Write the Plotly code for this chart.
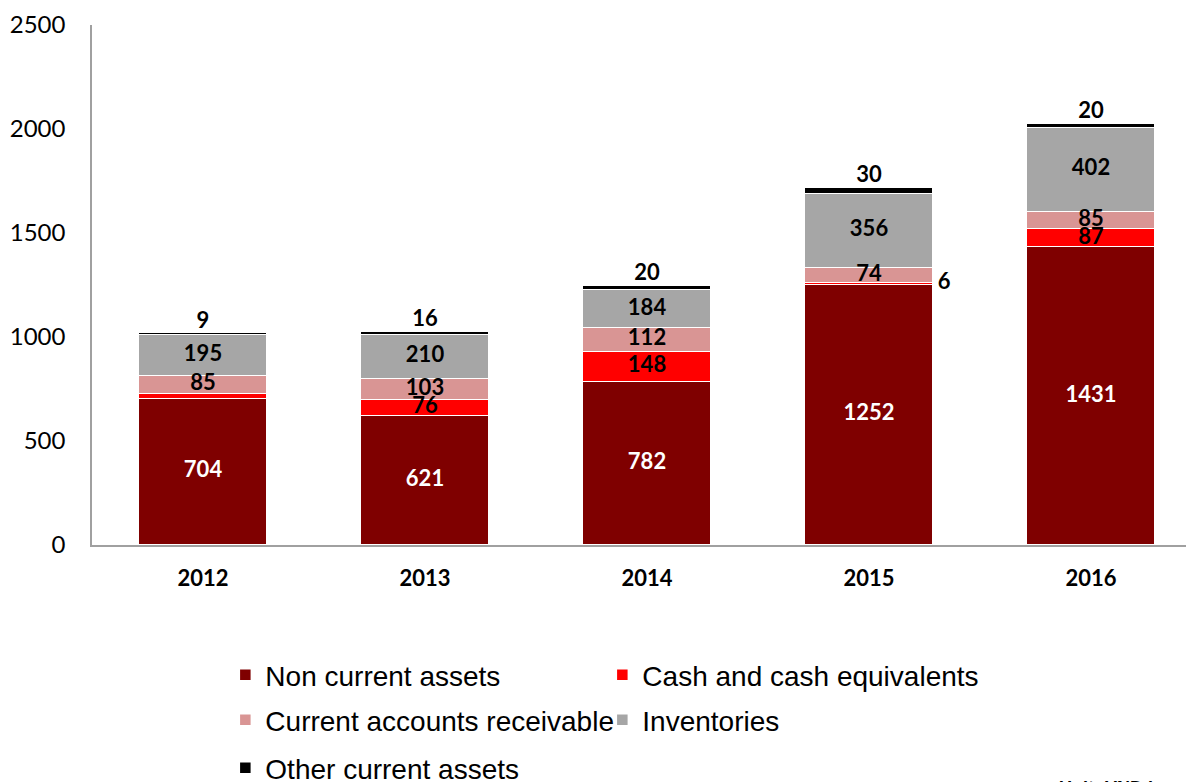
import plotly.graph_objects as go

years = ["2012", "2013", "2014", "2015", "2016"]
non_current = [704, 621, 782, 1252, 1431]
cash = [24, 76, 148, 6, 87]
receivable = [85, 103, 112, 74, 85]
inventories = [195, 210, 184, 356, 402]
other = [9, 16, 20, 30, 20]
cash_label_shown = [False, True, True, True, True]

colors = {
    "nc": "#7F0000",
    "cash": "#FF0000",
    "rec": "#D99594",
    "inv": "#A6A6A6",
    "oth": "#000000",
}

xs = list(range(len(years)))
W = 0.58
FAM = "Lato, Open Sans, sans-serif"
LSZ = 22

fig = go.Figure()
series = [
    ("Non current assets", non_current, colors["nc"], "legend"),
    ("Cash and cash equivalents", cash, colors["cash"], "legend"),
    ("Current accounts receivable", receivable, colors["rec"], "legend2"),
    ("Inventories", inventories, colors["inv"], "legend2"),
    ("Other current assets", other, colors["oth"], "legend3"),
]
for name, vals, col, lg in series:
    fig.add_trace(go.Bar(
        x=xs, y=vals, name=name, width=W,
        marker=dict(color=col, line=dict(color="white", width=1.5)),
        legend=lg, hoverinfo="skip",
    ))

# labels
base1 = non_current
base2 = [a + b for a, b in zip(base1, cash)]
base3 = [a + b for a, b in zip(base2, receivable)]
base4 = [a + b for a, b in zip(base3, inventories)]
total = [a + b for a, b in zip(base4, other)]

fig.add_trace(go.Scatter(
    x=xs, y=[v / 2 for v in non_current], mode="text",
    text=[str(v) for v in non_current],
    textfont=dict(family=FAM, size=LSZ, color="white", weight="bold"),
    showlegend=False, hoverinfo="skip"))

cx, cy, ct, cp = [], [], [], []
for i, v in enumerate(cash):
    if not cash_label_shown[i]:
        continue
    if v < 15:
        cx.append(i + W / 2 + 0.02); cp.append("middle right")
    else:
        cx.append(i); cp.append("middle center")
    cy.append(base1[i] + v / 2); ct.append(str(v))
fig.add_trace(go.Scatter(
    x=cx, y=cy, mode="text", text=ct, textposition=cp,
    textfont=dict(family=FAM, size=LSZ, color="black", weight="bold"),
    showlegend=False, hoverinfo="skip"))

fig.add_trace(go.Scatter(
    x=xs, y=[b + v / 2 for b, v in zip(base2, receivable)], mode="text",
    text=[str(v) for v in receivable],
    textfont=dict(family=FAM, size=LSZ, color="black", weight="bold"),
    showlegend=False, hoverinfo="skip"))

fig.add_trace(go.Scatter(
    x=xs, y=[b + v / 2 for b, v in zip(base3, inventories)], mode="text",
    text=[str(v) for v in inventories],
    textfont=dict(family=FAM, size=LSZ, color="black", weight="bold"),
    showlegend=False, hoverinfo="skip"))

fig.add_trace(go.Scatter(
    x=xs, y=total, mode="text", textposition="top center",
    text=[str(v) for v in other],
    textfont=dict(family=FAM, size=LSZ, color="black", weight="bold"),
    showlegend=False, hoverinfo="skip"))

legend_common = dict(
    orientation="h", xanchor="left", yanchor="middle", traceorder="normal",
    font=dict(family="Liberation Sans, Arial, sans-serif", size=28, color="black"),
    entrywidth=332, entrywidthmode="pixels", bgcolor="rgba(0,0,0,0)",
    itemclick=False, itemdoubleclick=False, tracegroupgap=0,
)

fig.update_layout(
    width=1194, height=782,
    barmode="stack",
    plot_bgcolor="white", paper_bgcolor="white",
    margin=dict(l=84, r=8, t=17, b=245, autoexpand=False),
    bargap=0,
    xaxis=dict(
        range=[-0.5, -0.5 + 1102 / 222],
        tickvals=xs, ticktext=years,
        tickfont=dict(family=FAM, size=22, color="black", weight="bold"),
        showgrid=False, zeroline=False,
        showline=True, linecolor="#A0A0A0", linewidth=1.5,
        ticks="", ticklabelstandoff=13, fixedrange=True,
    ),
    yaxis=dict(
        range=[0, 2500], tickvals=[0, 500, 1000, 1500, 2000, 2500],
        tickfont=dict(family=FAM, size=24, color="black"),
        showgrid=False, zeroline=False,
        showline=True, linecolor="#A0A0A0", linewidth=1.5,
        ticks="", ticklabelstandoff=20, fixedrange=True,
    ),
    legend=dict(x=0.121, y=-0.25, **legend_common),
    legend2=dict(x=0.121, y=-0.3365, **legend_common),
    legend3=dict(x=0.121, y=-0.429, **legend_common),
    annotations=[dict(
        text="Unit: VND bn", xref="paper", yref="paper",
        x=0.876, y=-0.445, xanchor="left", yanchor="top", showarrow=False,
        font=dict(family="Liberation Sans, Arial, sans-serif", size=18,
                  color="black", weight="bold"),
    )],
)

fig.write_html("out.html")
